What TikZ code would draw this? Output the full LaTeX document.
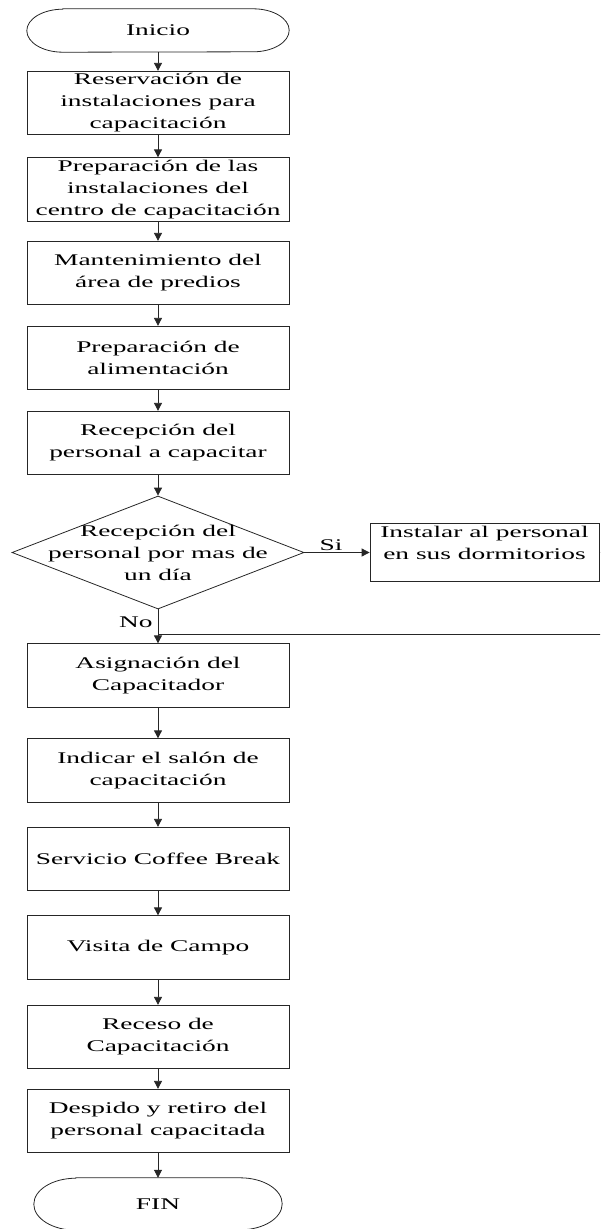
\documentclass[tikz,border=0pt]{standalone}
\usepackage{fontspec}
\setmainfont{Liberation Serif}[FakeStretch=1.68]
\usetikzlibrary{shapes.geometric,arrows.meta}

\begin{document}
\begin{tikzpicture}[x=1pt,y=-1pt,
  every node/.style={font=\fontsize{16.3}{22}\selectfont, align=center},
  proc/.style={draw=black!85, line width=0.8pt, minimum width=262pt, minimum height=63.5pt, inner sep=2pt},
  decision/.style={draw=black!85, line width=0.8pt, diamond, minimum width=292pt, minimum height=113pt, inner sep=0pt},
  term/.style={minimum width=262pt, minimum height=43pt, inner sep=0pt},
  lbl/.style={inner xsep=5pt, inner ysep=1pt},
  line/.style={draw=black!85, line width=0.8pt},
  flow/.style={line, -{Triangle[length=8pt,width=8pt]}}]
\clip (0,0) rectangle (600,1229);

\node [term] (ini) at (158,30.5) {Inicio};
\draw [line] ([xshift=36pt]ini.north west) -- ([xshift=-36pt]ini.north east) arc [start angle=90, end angle=-90, x radius=36pt, y radius=21.5pt] -- ([xshift=36pt]ini.south west) arc [start angle=270, end angle=90, x radius=36pt, y radius=21.5pt] -- cycle;

\node [proc] (res) at (158,103) {Reservación de\\instalaciones para\\capacitación};
\node [proc] (prep) at (158,189.5) {Preparación de las\\instalaciones del\\centro de capacitación};
\node [proc] (mant) at (158,273) {Mantenimiento del\\área de predios};
\node [proc] (alim) at (158,358) {Preparación de\\alimentación};
\node [proc] (recep) at (158,443) {Recepción del\\personal a capacitar};

% decision
\node [decision] (dec) at (158,552.5) {};
\node (dectxt) at (dec) {Recepción del\\personal por mas de\\un día};
\node [proc, minimum width=229pt, minimum height=57pt, text depth=20pt] (dorm) at (484.5,552.5) {Instalar al personal\\en sus dormitorios};
\coordinate (join) at (158,634);

\node [proc] (asig) at (158,675.5) {Asignación del\\Capacitador};
\node [proc] (salon) at (158,770.5) {Indicar el salón de\\capacitación};
\node [proc] (cafe) at (158,859) {Servicio Coffee Break};
\node [proc] (campo) at (158,947.5) {Visita de Campo};
\node [proc] (receso) at (158,1037) {Receso de\\Capacitación};
\node [proc] (desp) at (158,1121) {Despido y retiro del\\personal capacitada};

\node [term, minimum width=248pt, minimum height=52pt] (fin) at (158,1204) {FIN};
\draw [line] ([xshift=42pt]fin.north west) -- ([xshift=-42pt]fin.north east) arc [start angle=90, end angle=-90, x radius=42pt, y radius=26pt] -- ([xshift=42pt]fin.south west) arc [start angle=270, end angle=90, x radius=42pt, y radius=26pt] -- cycle;

\draw [flow] (ini) -- (res);
\draw [flow] (res) -- (prep);
\draw [flow] (prep) -- (mant);
\draw [flow] (mant) -- (alim);
\draw [flow] (alim) -- (recep);
\draw [flow] (recep) -- (dec);
\draw [flow] (dec) -- node [lbl, above, pos=0.41] {Si} (dorm);
\draw [flow] (dec) -- node [lbl, left, pos=0.37] {No} (asig);
\draw [line] (dorm.east) -- ++(20,0) |- (join);
\draw [flow] (asig) -- (salon);
\draw [flow] (salon) -- (cafe);
\draw [flow] (cafe) -- (campo);
\draw [flow] (campo) -- (receso);
\draw [flow] (receso) -- (desp);
\draw [flow] (desp) -- (fin);
\end{tikzpicture}
\end{document}
